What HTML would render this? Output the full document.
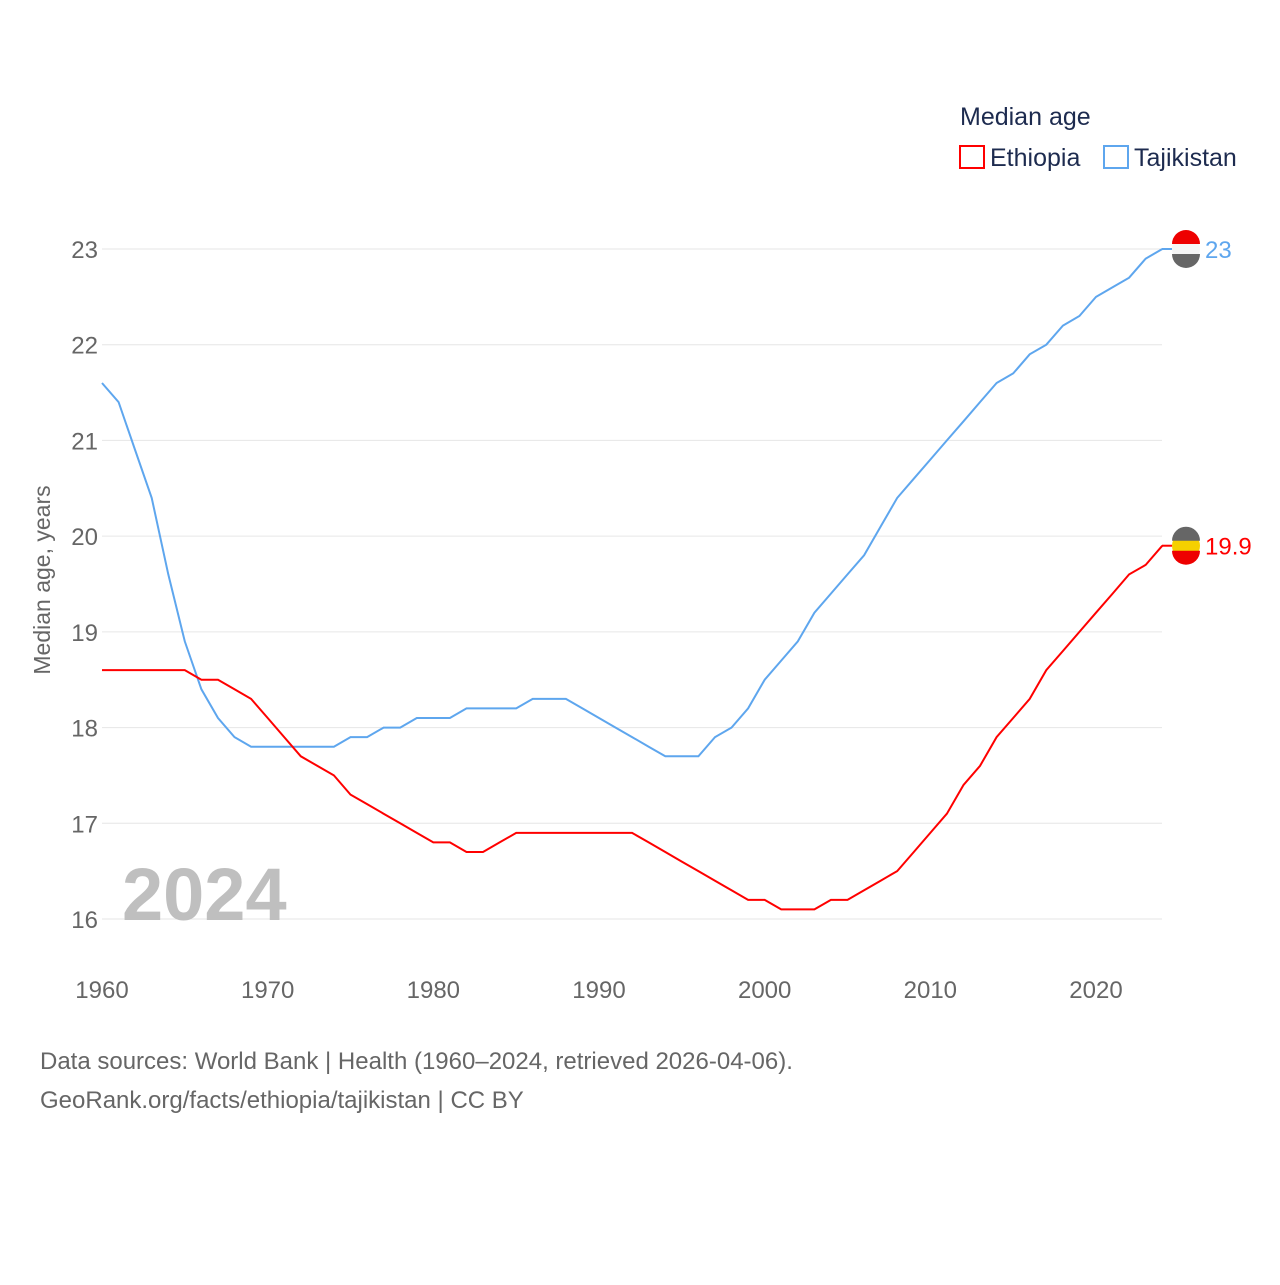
<!DOCTYPE html>
<html><head><meta charset="utf-8"><style>
body{margin:0;background:#fff;font-family:"Liberation Sans",sans-serif;}
</style></head><body>
<svg id="chart" width="1280" height="1280" xmlns="http://www.w3.org/2000/svg" style="font-family:'Liberation Sans',sans-serif">
<text x="960" y="125" font-size="25" fill="#1d2b4f">Median age</text>
<g><rect x="960" y="146" width="24" height="22" fill="none" stroke="#f00" stroke-width="2"/><text x="990" y="166" font-size="25" fill="#1d2b4f">Ethiopia</text></g>
<g><rect x="1104" y="146" width="24" height="22" fill="none" stroke="#5ea6ee" stroke-width="2"/><text x="1134" y="166" font-size="25" fill="#1d2b4f">Tajikistan</text></g>
<g id="grid"></g><g id="series"></g>
<text x="122" y="920" font-size="74" font-weight="bold" fill="#bfbfbf">2024</text>
<text transform="translate(50,580) rotate(-90)" text-anchor="middle" font-size="23" fill="#666">Median age, years</text>
<text x="40" y="1069" font-size="24" fill="#666">Data sources: World Bank | Health (1960–2024, retrieved 2026-04-06).</text>
<text x="40" y="1108" font-size="24" fill="#666">GeoRank.org/facts/ethiopia/tajikistan | CC BY</text>
</svg>
<script>
const years=[];for(let y=1960;y<=2024;y++)years.push(y);
const tajikistan=[21.6,21.4,20.9,20.4,19.6,18.9,18.4,18.1,17.9,17.8,17.8,17.8,17.8,17.8,17.8,17.9,17.9,18.0,18.0,18.1,18.1,18.1,18.2,18.2,18.2,18.2,18.3,18.3,18.3,18.2,18.1,18.0,17.9,17.8,17.7,17.7,17.7,17.9,18.0,18.2,18.5,18.7,18.9,19.2,19.4,19.6,19.8,20.1,20.4,20.6,20.8,21.0,21.2,21.4,21.6,21.7,21.9,22.0,22.2,22.3,22.5,22.6,22.7,22.9,23.0];
const ethiopia=[18.6,18.6,18.6,18.6,18.6,18.6,18.5,18.5,18.4,18.3,18.1,17.9,17.7,17.6,17.5,17.3,17.2,17.1,17.0,16.9,16.8,16.8,16.7,16.7,16.8,16.9,16.9,16.9,16.9,16.9,16.9,16.9,16.9,16.8,16.7,16.6,16.5,16.4,16.3,16.2,16.2,16.1,16.1,16.1,16.2,16.2,16.3,16.4,16.5,16.7,16.9,17.1,17.4,17.6,17.9,18.1,18.3,18.6,18.8,19.0,19.2,19.4,19.6,19.7,19.9];
const yTicks=[16,17,18,19,20,21,22,23];
const xTicks=[1960,1970,1980,1990,2000,2010,2020];
const NS='http://www.w3.org/2000/svg';
const X=y=>102+(y-1960)*(1096-102)/60;
const Y=v=>919-(v-16)*(919-249)/7;
const grid=document.getElementById('grid'),ser=document.getElementById('series');
function mk(tag,attrs,parent,txt){const e=document.createElementNS(NS,tag);for(const k in attrs)e.setAttribute(k,attrs[k]);if(txt!==undefined)e.textContent=txt;parent.appendChild(e);return e;}
yTicks.forEach(t=>{
 const l=mk('line',{x1:102,x2:1162,y1:Y(t),y2:Y(t),stroke:'#e6e6e6','stroke-width':1},grid);
 
 
 const tx=mk('text',{x:98,y:Y(t)+9,'text-anchor':'end','font-size':24,fill:'#666'},grid,String(t));
 
 
});
xTicks.forEach(t=>{
 const tx=mk('text',{x:X(t),y:998,'text-anchor':'middle','font-size':24,fill:'#666'},grid,String(t));
 
 
});
function line(vals,color,name,label,flag){
 const d=vals.map((v,i)=>(i?'L':'M')+X(years[i]).toFixed(1)+','+Y(v).toFixed(1)).join('');
 const p=mk('path',{d:d,fill:'none',stroke:color,'stroke-width':2},ser);
 
 
 const lv=vals[vals.length-1],cy=Y(lv);
 const g=mk('g',{},ser);
 
 
 mk('circle',{cx:1186,cy:cy,r:14,fill:flag[1]},g);
 mk('path',{d:`M1172,${cy-5}A14,14 0 0 1 1200,${cy-5}Z`,fill:flag[0]},g);
 mk('path',{d:`M1172,${cy+5}A14,14 0 0 0 1200,${cy+5}Z`,fill:flag[2]},g);
 mk('line',{x1:1162,x2:1172,y1:cy,y2:cy,stroke:color,'stroke-width':2},g);
 const t=mk('text',{x:1205,y:cy+9,'font-size':24,fill:color},ser,label);
 
 
}
line(tajikistan,'#5ea6ee','tajikistan','23',['#e00','#f5f5f5','#666']);
line(ethiopia,'#f00','ethiopia','19.9',['#666','#f5d000','#e00']);
</script>
</body></html>
